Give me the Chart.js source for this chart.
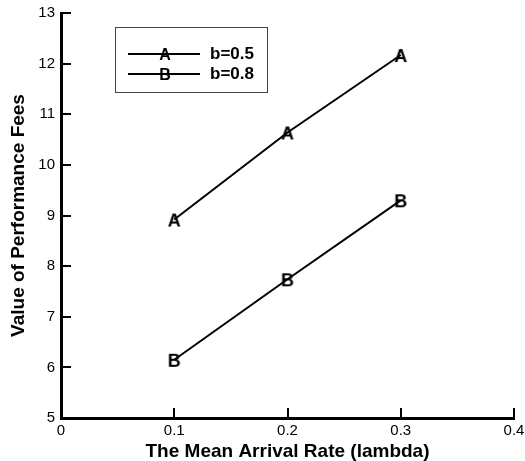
<!DOCTYPE html>
<html>
<head>
<meta charset="utf-8">
<script src="https://cdn.jsdelivr.net/npm/chart.js@4.4.1/dist/chart.umd.min.js"></script>
<style>
  html, body { margin: 0; padding: 0; background: #fff; }
  #wrap { width: 525px; height: 461px; }
</style>
</head>
<body>
<div id="wrap"><canvas id="c" width="525" height="461"></canvas></div>
<script>
// Arrival rates on the x axis
const lambdas = [0.1, 0.2, 0.3];
// Performance fees for each b value
const feesA = [8.92, 10.64, 12.17];
const feesB = [6.15, 7.74, 9.30];
const seriesNames = ['b=0.5', 'b=0.8'];
const seriesMarks = ['A', 'B'];
const xTicks = [0, 0.1, 0.2, 0.3, 0.4];
const yTicks = [5, 6, 7, 8, 9, 10, 11, 12, 13];

const FONT = '"Liberation Sans", Arial, sans-serif';

// Letter markers drawn onto small canvases, used as point styles
function letterMarker(ch, size) {
  const cv = document.createElement('canvas');
  cv.width = 26; cv.height = 26;
  const g = cv.getContext('2d');
  g.font = 'bold ' + size + 'px ' + FONT;
  g.fillStyle = '#000';
  g.textAlign = 'center';
  g.textBaseline = 'alphabetic';
  const m = g.measureText(ch);
  const h = m.actualBoundingBoxAscent - m.actualBoundingBoxDescent;
  g.fillText(ch, 13, 13 + h / 2);
  return cv;
}
const markerA = letterMarker(seriesMarks[0], 18);
const markerB = letterMarker(seriesMarks[1], 18);

function toPoints(ys) { return lambdas.map((x, i) => ({ x: x, y: ys[i] })); }

// Inward tick marks on both axes
const inwardTicks = {
  id: 'inwardTicks',
  afterDraw(chart) {
    const { ctx, chartArea: a, scales: { x, y } } = chart;
    ctx.save();
    ctx.strokeStyle = '#000';
    ctx.lineWidth = 2;
    ctx.beginPath();
    xTicks.forEach(v => {
      const px = Math.round(x.getPixelForValue(v));
      ctx.moveTo(px, a.bottom);
      ctx.lineTo(px, a.bottom - 10);
    });
    yTicks.forEach(v => {
      const py = Math.round(y.getPixelForValue(v));
      ctx.moveTo(a.left, py);
      ctx.lineTo(a.left + 10, py);
    });
    ctx.stroke();
    ctx.restore();
  }
};

// Boxed legend with line samples and letter markers
const boxLegend = {
  id: 'boxLegend',
  afterDraw(chart) {
    const { ctx, chartArea: a } = chart;
    const bx = a.left + 54, by = a.top + 14, bw = 152, bh = 65;
    ctx.save();
    ctx.strokeStyle = '#444';
    ctx.lineWidth = 1;
    ctx.strokeRect(bx + 0.5, by + 0.5, bw, bh);
    const rows = [by + 27, by + 47];
    const marks = [letterMarker(seriesMarks[0], 16), letterMarker(seriesMarks[1], 16)];
    rows.forEach((ry, i) => {
      ctx.strokeStyle = '#000';
      ctx.lineWidth = 2;
      ctx.beginPath();
      ctx.moveTo(bx + 13, ry);
      ctx.lineTo(bx + 85, ry);
      ctx.stroke();
      ctx.drawImage(marks[i], bx + 50 - 13, ry - 13);
      ctx.fillStyle = '#000';
      ctx.font = 'bold 17px ' + FONT;
      ctx.textAlign = 'left';
      ctx.textBaseline = 'middle';
      ctx.fillText(seriesNames[i], bx + 95, ry);
    });
    ctx.restore();
  }
};

new Chart(document.getElementById('c'), {
  type: 'scatter',
  data: {
    datasets: [
      {
        label: seriesNames[0],
        data: toPoints(feesA),
        showLine: true,
        borderColor: '#000',
        borderWidth: 2,
        pointStyle: markerA,
        pointRadius: 9
      },
      {
        label: seriesNames[1],
        data: toPoints(feesB),
        showLine: true,
        borderColor: '#000',
        borderWidth: 2,
        pointStyle: markerB,
        pointRadius: 9
      }
    ]
  },
  options: {
    responsive: false,
    animation: false,
    layout: { padding: { top: 13, right: 11, left: 0, bottom: 0 } },
    plugins: {
      legend: { display: false },
      tooltip: { enabled: false }
    },
    scales: {
      x: {
        type: 'linear',
        min: 0, max: 0.4,
        afterBuildTicks(s) { s.ticks = xTicks.map(v => ({ value: v })); },
        afterFit(s) { s.height = 43; s.paddingLeft = 0; s.paddingRight = 0; },
        grid: { display: false, drawTicks: false },
        border: { display: true, color: '#000', width: 3 },
        ticks: {
          color: '#000',
          padding: 4,
          maxRotation: 0,
          font: { family: FONT, size: 15 },
          callback: v => String(v)
        },
        title: {
          display: true,
          text: 'The Mean Arrival Rate (lambda)',
          color: '#000',
          font: { family: FONT, size: 19, weight: 'bold', lineHeight: 1 },
          padding: { top: 0, bottom: 0 }
        }
      },
      y: {
        type: 'linear',
        min: 5, max: 13,
        afterBuildTicks(s) { s.ticks = yTicks.map(v => ({ value: v })); },
        afterFit(s) { s.width = 61; s.paddingTop = 0; s.paddingBottom = 0; },
        grid: { display: false, drawTicks: false },
        border: { display: true, color: '#000', width: 3 },
        ticks: {
          color: '#000',
          padding: 6,
          font: { family: FONT, size: 15 },
          callback: v => String(v)
        },
        title: {
          display: true,
          text: 'Value of Performance Fees',
          color: '#000',
          font: { family: FONT, size: 19, weight: 'bold', lineHeight: 1 },
          padding: { top: 9, bottom: 0 }
        }
      }
    }
  },
  plugins: [inwardTicks, boxLegend]
});
</script>
</body>
</html>
